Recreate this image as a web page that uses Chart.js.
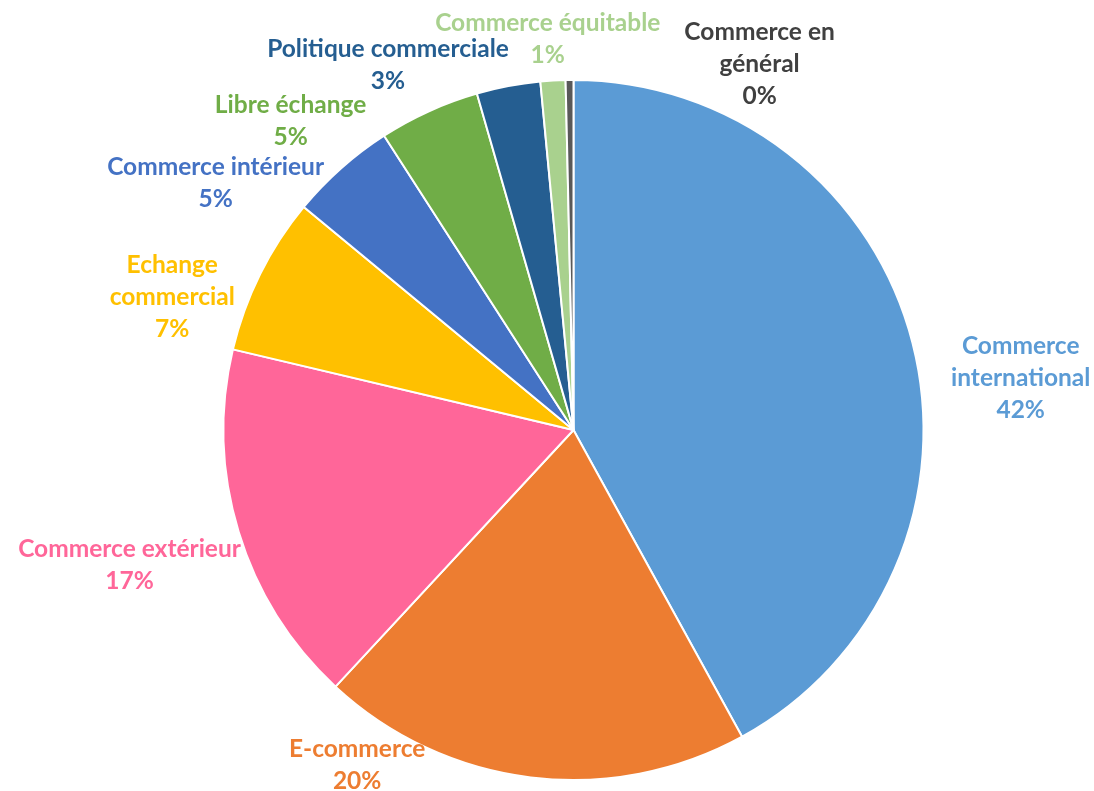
<!DOCTYPE html>
<html>
<head>
<meta charset="utf-8">
<script src="https://cdn.jsdelivr.net/npm/chart.js@4"></script>
<style>
  html, body { margin: 0; padding: 0; background: #fff; }
  #wrap { width: 1094px; height: 791px; position: relative; }
</style>
</head>
<body>
<div id="wrap"><canvas id="pieChart"></canvas></div>
<script>
// categories and shares (%)
const categories = [
  'Commerce international', 'E-commerce', 'Commerce extérieur', 'Echange commercial',
  'Commerce intérieur', 'Libre échange', 'Politique commerciale', 'Commerce équitable',
  'Commerce en général'
];
const shares = [42.0, 19.9, 16.8, 7.3, 4.9, 4.65, 2.94, 1.15, 0.36];

const sliceColors = ['#5B9BD5', '#ED7D31', '#FF6699', '#FFC000', '#4472C4', '#70AD47', '#255E91', '#A9D18E', '#595959'];
const labelColors = ['#5B9BD5', '#ED7D31', '#FF6699', '#FFC000', '#4472C4', '#70AD47', '#255E91', '#A9D18E', '#404040'];

// wrap width per label (null = one line) and nudges from the computed anchor
const wrapWidth = [170, null, null, 160, null, null, null, null, 160];
const nudges = [[31, 50], [-164, -54], [7, 21], [-23, 49], [-47, 46], [-103, 48], [-96, 20], [2, 0], [191, 42]];

const FONT = 'bold 24.5px Lato';
const LINE_H = 32;

function wrapText(ctx, text, maxW) {
  if (!maxW) return [text];
  const words = text.split(' ');
  const lines = [];
  let cur = '';
  words.forEach(w => {
    const test = cur ? cur + ' ' + w : w;
    if (cur && ctx.measureText(test).width > maxW) {
      lines.push(cur);
      cur = w;
    } else {
      cur = test;
    }
  });
  if (cur) lines.push(cur);
  return lines;
}

// draws the outside labels (name + rounded percent)
const outsideLabels = {
  id: 'outsideLabels',
  afterDraw(chart) {
    const ctx = chart.ctx;
    const meta = chart.getDatasetMeta(0);
    const total = shares.reduce((a, b) => a + b, 0);
    ctx.save();
    ctx.font = FONT;
    ctx.textAlign = 'center';
    ctx.textBaseline = 'middle';
    meta.data.forEach((arc, i) => {
      const p = arc.getProps(['x', 'y', 'startAngle', 'endAngle', 'outerRadius'], true);
      const mid = (p.startAngle + p.endAngle) / 2;
      const dx = Math.cos(mid), dy = Math.sin(mid);
      const lines = wrapText(ctx, categories[i], wrapWidth[i]);
      lines.push(Math.round(shares[i] / total * 100) + '%');
      const w = Math.max(...lines.map(l => ctx.measureText(l).width));
      const h = lines.length * LINE_H;
      const R = p.outerRadius + 10;
      const cx = p.x + R * dx + dx * w / 2 + nudges[i][0];
      const cy = p.y + R * dy + dy * h / 2 + nudges[i][1];
      ctx.fillStyle = labelColors[i];
      lines.forEach((l, k) => {
        ctx.fillText(l, cx, cy - h / 2 + LINE_H / 2 + k * LINE_H);
      });
    });
    ctx.restore();
  }
};

const ctx = document.getElementById('pieChart').getContext('2d');
new Chart(ctx, {
  type: 'pie',
  data: {
    labels: categories,
    datasets: [{
      data: shares,
      backgroundColor: sliceColors,
      borderColor: '#FFFFFF',
      borderWidth: 2
    }]
  },
  options: {
    responsive: true,
    maintainAspectRatio: false,
    animation: false,
    layout: { padding: { left: 222, right: 169, top: 79, bottom: 10 } },
    plugins: {
      legend: { display: false },
      tooltip: { enabled: false }
    }
  },
  plugins: [outsideLabels]
});
</script>
</body>
</html>
